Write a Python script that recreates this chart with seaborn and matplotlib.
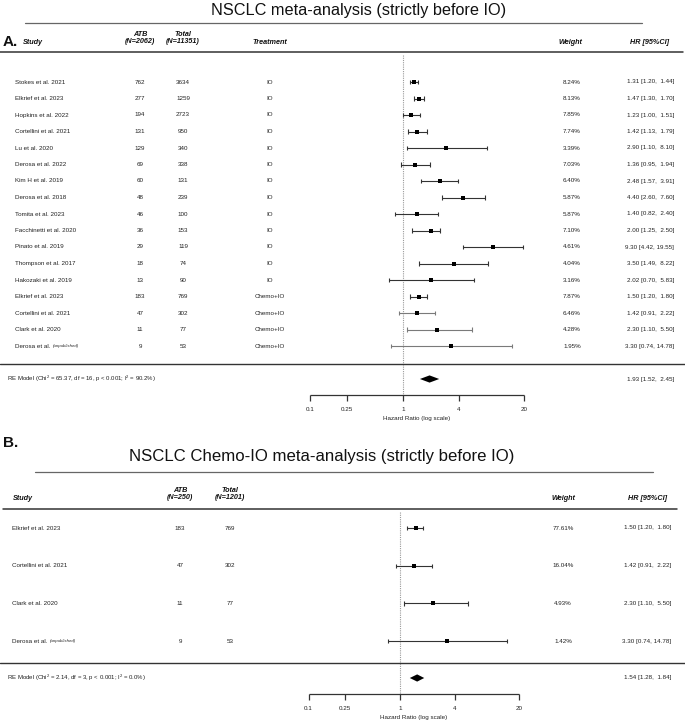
import numpy as np
import pandas as pd
import matplotlib
matplotlib.use("Agg")
import matplotlib.pyplot as plt
import seaborn as sns
from matplotlib.lines import Line2D
from matplotlib.transforms import blended_transform_factory as btf

# ---------------- data ----------------
studies_a = ["Stokes et al. 2021", "Elkrief et al. 2023", "Hopkins et al. 2022", "Cortellini et al. 2021",
             "Lu et al. 2020", "Derosa et al. 2022", "Kim H et al. 2019", "Derosa et al. 2018",
             "Tomita et al. 2023", "Facchinetti et al. 2020", "Pinato et al. 2019", "Thompson et al. 2017",
             "Hakozaki et al. 2019", "Elkrief et al. 2023", "Cortellini et al. 2021", "Clark et al. 2020",
             "Derosa et al."]
unpub_a = [False] * 16 + [True]
atb_a = [762, 277, 194, 131, 129, 69, 60, 48, 46, 36, 29, 18, 13, 183, 47, 11, 9]
total_a = [3634, 1259, 2723, 950, 340, 338, 131, 239, 100, 153, 119, 74, 90, 769, 302, 77, 53]
treat_a = ["IO"] * 13 + ["Chemo+IO"] * 4
weight_a = [8.24, 8.13, 7.85, 7.74, 3.39, 7.03, 6.40, 5.87, 5.87, 7.10, 4.61, 4.04, 3.16, 7.87, 6.46, 4.28, 1.95]
hr_a = [1.31, 1.47, 1.23, 1.42, 2.90, 1.36, 2.48, 4.40, 1.40, 2.00, 9.30, 3.50, 2.02, 1.50, 1.42, 2.30, 3.30]
lo_a = [1.20, 1.30, 1.00, 1.13, 1.10, 0.95, 1.57, 2.60, 0.82, 1.25, 4.42, 1.49, 0.70, 1.20, 0.91, 1.10, 0.74]
hi_a = [1.44, 1.70, 1.51, 1.79, 8.10, 1.94, 3.91, 7.60, 2.40, 2.50, 19.55, 8.22, 5.83, 1.80, 2.22, 5.50, 14.78]
pooled_a = (1.93, 1.52, 2.45)
re_text_a = "RE Model (Chi$^{2}$ = 65.37, df = 16, p < 0.001; I$^{2}$ = 90.2%)"
title_a = "NSCLC meta-analysis (strictly before IO)"
hdr_atb_a = "ATB\n(N=2062)"
hdr_tot_a = "Total\n(N=11351)"

studies_b = ["Elkrief et al. 2023", "Cortellini et al. 2021", "Clark et al. 2020", "Derosa et al."]
unpub_b = [False, False, False, True]
atb_b = [183, 47, 11, 9]
total_b = [769, 302, 77, 53]
weight_b = [77.61, 16.04, 4.93, 1.42]
hr_b = [1.50, 1.42, 2.30, 3.30]
lo_b = [1.20, 0.91, 1.10, 0.74]
hi_b = [1.80, 2.22, 5.50, 14.78]
pooled_b = (1.54, 1.28, 1.84)
re_text_b = "RE Model (Chi$^{2}$ = 2.14, df = 3, p < 0.001; I$^{2}$ = 0.0%)"
title_b = "NSCLC Chemo-IO meta-analysis (strictly before IO)"
hdr_atb_b = "ATB\n(N=250)"
hdr_tot_b = "Total\n(N=1201)"

ticks = [0.1, 0.25, 1, 4, 20]
tick_labels = ["0.1", "0.25", "1", "4", "20"]
xlabel = "Hazard Ratio (log scale)"

# ---------------- style ----------------
sns.set_theme(style="white")
plt.rcParams["font.family"] = ["Liberation Sans", "DejaVu Sans"]
plt.rcParams["mathtext.fontset"] = "custom"
plt.rcParams["mathtext.rm"] = "Liberation Sans"
plt.rcParams["mathtext.default"] = "regular"

W, H = 685, 725
fig = plt.figure(figsize=(W / 100, H / 100), dpi=100)
TXT = "#222222"
FS = 4.5
HFS = 5.2


def fx(px):
    return px / W


def fy(py):
    return 1 - py / H


def hline(x1, x2, py, color="#333333", lw=0.9):
    fig.add_artist(Line2D([fx(x1), fx(x2)], [fy(py), fy(py)], transform=fig.transFigure,
                          color=color, lw=lw))


def ftext(px, py, s, **kw):
    kw.setdefault("color", TXT)
    kw.setdefault("va", "center")
    return fig.text(fx(px), fy(py), s, **kw)


def panel(top_px, bot_px, row0, spacing, x0, ppd, df, pooled, re_text, title, title_x,
          title_fs, title_line, hdr_y, hdr_line, hdr, letter, letter_y, cols, sep_y,
          has_treat, gray_last=0):
    ax = fig.add_axes([0, 1 - bot_px / H, 1, (bot_px - top_px) / H])
    ax.set_xscale("log")
    ax.set_xlim(10 ** ((0 - x0) / ppd), 10 ** ((W - x0) / ppd))
    ax.set_ylim((bot_px - row0) / spacing, (top_px - row0) / spacing)
    ax.axis("off")
    conv = lambda py: (py - row0) / spacing
    tr = btf(fig.transFigure, ax.transData)

    # title and letter
    ftext(title_x, title_y_of[letter], title, ha="center", fontsize=title_fs, color="#111111")
    hline(title_line[0], title_line[1], title_line[2], color="#666666", lw=0.9)
    ftext(3, letter_y, letter, ha="left", fontsize=11, fontweight="bold", color="#111111")

    # headers
    hk = dict(fontsize=HFS, fontweight="bold", fontstyle="italic", color="#111111")
    ftext(cols["study_hdr"], hdr_y, "Study", ha="left", **hk)
    ftext(cols["atb"], hdr_y - 4, hdr[0], ha="center", linespacing=0.95, **hk)
    ftext(cols["tot"], hdr_y - 4, hdr[1], ha="center", linespacing=0.95, **hk)
    if has_treat:
        ftext(cols["treat"], hdr_y, "Treatment", ha="center", **hk)
    ftext(cols["w_hdr"], hdr_y, "Weight", ha="center", **hk)
    ftext(cols["hr_hdr"], hdr_y, "HR [95%CI]", ha="center", **hk)
    hline(hdr_line[0], hdr_line[1], hdr_line[2], color="#333333", lw=1.1)

    # reference line
    ax.vlines(1, conv(hdr_line[2] + 3), conv(sep_y + 31), colors="#9a9a9a",
              linestyles=(0, (1, 1)), lw=0.8)

    renderer = fig.canvas.get_renderer()
    n = len(df)
    for i, r in df.iterrows():
        t = ax.text(fx(cols["study"]), i, r["study"], transform=tr, ha="left", va="center",
                    fontsize=FS, color=TXT)
        if r["unpub"]:
            bb = t.get_window_extent(renderer=renderer)
            ax.text(fx(bb.x1 + 2), i, "(unpublished)", transform=tr, ha="left", va="center",
                    fontsize=3.2, fontstyle="italic", color=TXT)
        ax.text(fx(cols["atb"]), i, str(r["atb"]), transform=tr, ha="center", va="center",
                fontsize=FS, color=TXT)
        ax.text(fx(cols["tot"]), i, str(r["total"]), transform=tr, ha="center", va="center",
                fontsize=FS, color=TXT)
        if has_treat:
            ax.text(fx(cols["treat"]), i, r["treat"], transform=tr, ha="center", va="center",
                    fontsize=FS, color=TXT)
        ax.text(fx(cols["w"]), i, f"{r['weight']:.2f}%", transform=tr, ha="center",
                va="center", fontsize=FS, color=TXT)
        ax.text(fx(cols["hr"]), i, f"{r['hr']:.2f} [{r['lo']:.2f}, {r['hi']:5.2f}]",
                transform=tr, ha="right", va="center", fontsize=FS, color=TXT)
        col = "#7a7a7a" if i >= n - gray_last else "#333333"
        cap = 2.2 / spacing
        ax.hlines(i, r["lo"], r["hi"], colors=col, lw=0.8)
        ax.vlines([r["lo"], r["hi"]], i - cap, i + cap, colors=col, lw=0.8)

    sns.scatterplot(data=df, x="hr", y="row", marker="s", s=7, color="black",
                    linewidth=0, ax=ax, legend=False, zorder=5)
    ax.set_xlim(10 ** ((0 - x0) / ppd), 10 ** ((W - x0) / ppd))
    ax.set_ylim((bot_px - row0) / spacing, (top_px - row0) / spacing)
    ax.axis("off")

    # separator and pooled
    hline(0, W, sep_y, color="#333333", lw=1.0)
    re_y = conv(sep_y + 15)
    ax.text(fx(7), re_y, re_text, transform=tr, ha="left", va="center", fontsize=4.3, color=TXT)
    est, plo, phi = pooled
    ax.text(fx(cols["hr"]), re_y, f"{est:.2f} [{plo:.2f}, {phi:5.2f}]", transform=tr,
            ha="right", va="center", fontsize=FS, color=TXT)
    dh = 3.6 / spacing
    ax.fill([plo, est, phi, est], [re_y, re_y - dh, re_y, re_y + dh], color="black", lw=0)

    # forest x axis
    ya = conv(sep_y + 31)
    ax.plot([ticks[0], ticks[-1]], [ya, ya], color="#333333", lw=0.9, solid_capstyle="butt")
    ax.vlines(ticks, ya, ya + 6 / spacing, colors="#333333", lw=0.9)
    for tk, lb in zip(ticks, tick_labels):
        ax.text(tk, conv(sep_y + 45), lb, ha="center", va="center", fontsize=FS, color=TXT)
    mid = np.sqrt(ticks[0] * ticks[-1])
    ax.text(mid, conv(sep_y + 54), xlabel, ha="center", va="center", fontsize=FS, color=TXT)
    return ax


title_y_of = {"A.": 10, "B.": 456}

df_a = pd.DataFrame(dict(study=studies_a, unpub=unpub_a, atb=atb_a, total=total_a, treat=treat_a,
                         weight=weight_a, hr=hr_a, lo=lo_a, hi=hi_a))
df_a["row"] = np.arange(len(df_a))
df_b = pd.DataFrame(dict(study=studies_b, unpub=unpub_b, atb=atb_b, total=total_b,
                         treat=[""] * len(studies_b), weight=weight_b, hr=hr_b, lo=lo_b, hi=hi_b))
df_b["row"] = np.arange(len(df_b))

cols_a = dict(study=15, study_hdr=23, atb=140, tot=183, treat=270, w=572, w_hdr=570, hr=674,
              hr_hdr=650)
cols_b = dict(study=12, study_hdr=13, atb=180, tot=230, w=563, w_hdr=563, hr=671, hr_hdr=647)

panel(0, 440, 82, 16.5, 403, 93, df_a, pooled_a, re_text_a, title_a, 359, 11.7,
      (25, 642, 23), 42, (0, 683, 52), (hdr_atb_a, hdr_tot_a), "A.", 42, cols_a, 364, True,
      gray_last=3)
panel(440, 725, 528, 37.7, 400, 91.5, df_b, pooled_b, re_text_b, title_b, 322, 12.1,
      (35, 653, 472), 498, (3, 677, 509), (hdr_atb_b, hdr_tot_b), "B.", 443, cols_b, 663, False)

fig.savefig("out.png", dpi=100, facecolor="white")
